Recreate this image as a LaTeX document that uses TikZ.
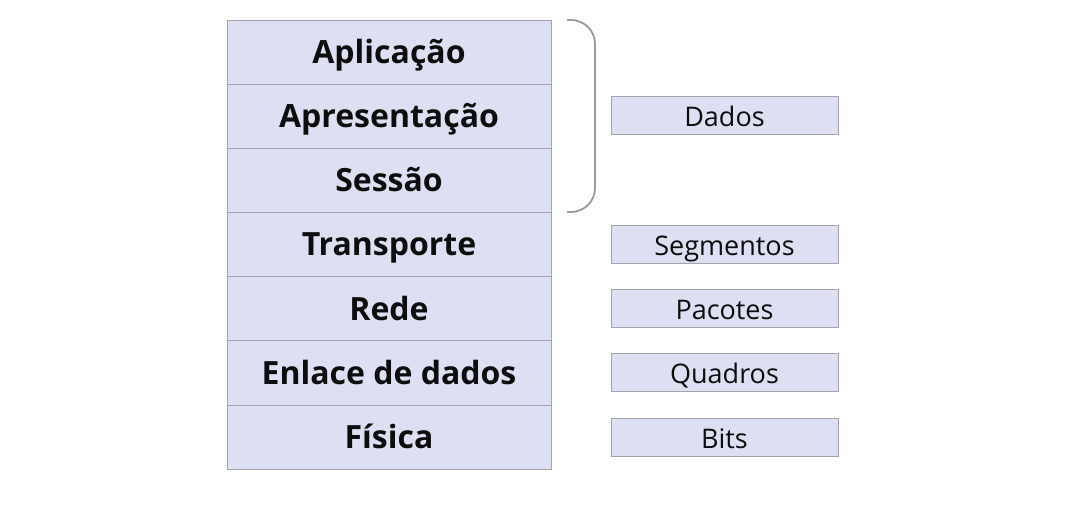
\documentclass[tikz,border=0pt]{standalone}
\usepackage{fontspec}
\setmainfont{Open Sans}
\definecolor{camadafill}{HTML}{DDE0F2}
\definecolor{borda}{HTML}{A4A4A8}
\definecolor{chave}{HTML}{9A9A9A}
\begin{document}
\begin{tikzpicture}[x=1pt,y=-1pt,
  camada/.style={draw=borda,fill=camadafill,minimum width=324pt,minimum height=64.14pt,inner sep=0pt,text height=31pt,text depth=8pt,text=black!95,font=\fontsize{32}{34}\selectfont\bfseries},
  pdu/.style={draw=borda,fill=camadafill,minimum width=227pt,minimum height=38pt,inner sep=0pt,text height=28pt,text depth=5pt,text=black!95,font=\fontsize{27}{29}\selectfont}]
  \useasboundingbox (0,0) rectangle (1066,526);
  % camadas do modelo OSI
  \node[camada] (apl)  at (389,52.07)  {Aplicação};
  \node[camada] (apr)  at (389,116.21) {Apresentação};
  \node[camada] (ses)  at (389,180.35) {Sessão};
  \node[camada] (tra)  at (389,244.49) {Transporte};
  \node[camada] (rede) at (389,308.63) {Rede};
  \node[camada] (enl)  at (389,372.77) {Enlace de dados};
  \node[camada] (fis)  at (389,436.91) {Física};
  % chave das camadas superiores
  \draw[chave,line width=1.8pt,rounded corners=24pt] (567,20) -- (595,20) -- (595,212) -- (567,212);
  % unidades de dados
  \node[pdu] (dados) at (724.5,115.5) {Dados};
  \node[pdu] (seg)   at (724.5,244.5) {Segmentos};
  \node[pdu] (pac)   at (724.5,308.5) {Pacotes};
  \node[pdu] (qua)   at (724.5,372.5) {Quadros};
  \node[pdu] (bits)  at (724.5,437)   {Bits};
\end{tikzpicture}
\end{document}
